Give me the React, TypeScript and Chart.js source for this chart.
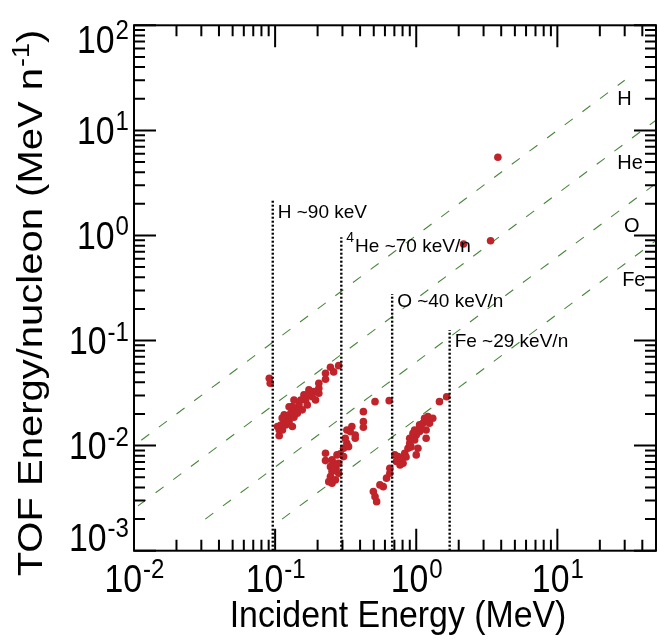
import React, { useEffect, useRef } from 'react';
import { Chart, registerables } from 'chart.js';

Chart.register(...registerables);

// ---- axes ----
const X_MIN = 0.01;
const X_MAX = 50;
const Y_MIN = 0.001;
const Y_MAX = 100;

const xMajorTicks = [0.01, 0.1, 1, 10];
const xTickExponents = ['-2', '-1', '0', '1'];
const yMajorTicks = [0.001, 0.01, 0.1, 1, 10, 100];
const yTickExponents = ['-3', '-2', '-1', '0', '1', '2'];
const minorMultipliers = [2, 3, 4, 5, 6, 7, 8, 9];

const xTitle = 'Incident Energy (MeV)';
const yTitleMain = 'TOF Energy/nucleon (MeV n';
const yTitleSup = '-1';
const yTitleEnd = ')';

// ---- measured events (MeV, MeV/nucleon) ----
const incidentEnergy = [
  // H group
  0.282, 0.2466, 0.2275, 0.2275, 0.204, 0.204, 0.188, 0.183, 0.169, 0.1645,
  0.152, 0.1476, 0.14, 0.1325, 0.129, 0.1222, 0.1159, 0.1099, 0.1069, 0.1069,
  0.1127, 0.119, 0.1256, 0.136, 0.1437, 0.1557, 0.169, 0.1934, 0.204, 0.1256,
  0.1159, 0.1325, 0.104, 0.0909, 0.0923, 0.1736, 0.26, 0.136, 0.16, 0.1122,
  // He group
  0.3224, 0.314, 0.3224, 0.3056, 0.2898, 0.2744, 0.2275, 0.2275, 0.253, 0.2466,
  0.253, 0.27, 0.282, 0.2466, 0.253, 0.2673, 0.2399, 0.282, 0.3056, 0.3314,
  0.3405, 0.3497, 0.3694, 0.3694, 0.4222, 0.4222, 0.4222, 0.5105, 0.643, 0.26,
  0.26,
  // O / Fe group
  0.4966, 0.5105, 0.524, 0.553, 0.5836, 0.6157, 0.65, 0.65, 0.705, 0.744,
  0.7237, 0.7847, 0.8065, 0.8289, 0.8743, 0.899, 0.974, 1.0, 1.056, 1.084,
  1.114, 1.146, 1.208, 1.242, 1.31, 1.175, 1.028, 1.0, 0.899, 0.948,
  0.974, 1.056, 1.175, 1.46, 1.643, 0.768, 0.847, 0.918,
  // high-energy events
  3.79, 2.163, 3.363,
];
const tofEnergy = [
  // H group
  0.0577, 0.0557, 0.0489, 0.0428, 0.0392, 0.0352, 0.0327, 0.0292, 0.0304, 0.0272,
  0.0272, 0.0244, 0.0219, 0.0235, 0.0203, 0.0182, 0.0169, 0.0157, 0.0141, 0.0124,
  0.0141, 0.0157, 0.0169, 0.0186, 0.0203, 0.0219, 0.0244, 0.0272, 0.0315, 0.0234,
  0.0196, 0.0152, 0.0152, 0.0438, 0.0392, 0.0339, 0.0503, 0.0272, 0.0304, 0.0183,
  // He group
  0.0141, 0.01176, 0.01054, 0.00945, 0.00834, 0.00816, 0.00847, 0.0072, 0.00731, 0.00631,
  0.00566, 0.0061, 0.0068, 0.00507, 0.00439, 0.00472, 0.00454, 0.00546, 0.00786, 0.00978,
  0.0136, 0.0152, 0.01264, 0.01176, 0.02106, 0.0169, 0.01496, 0.0262, 0.0268, 0.0068,
  0.00587,
  // O / Fe group
  0.00365, 0.00327, 0.00293, 0.00423, 0.00407, 0.0049, 0.00546, 0.0061, 0.00816, 0.00786,
  0.00705, 0.00759, 0.0068, 0.00847, 0.00945, 0.01054, 0.01133, 0.01264, 0.0136, 0.01465,
  0.01634, 0.01823, 0.01888, 0.01634, 0.01823, 0.0141, 0.00945, 0.00816, 0.01176, 0.01312,
  0.0141, 0.01574, 0.01176, 0.0262, 0.0292, 0.00655, 0.0078, 0.00972,
  // high-energy events
  5.55, 0.83, 0.892,
];

// ---- E/A reference lines ----
const ionNames = ['H', 'He', 'O', 'Fe'];
const ionMassNumbers = [1, 4, 16, 56];
const ionLineStartY = 0.002;
const ionLineEndY = 30;
const ionLabelX = [25.3, 25.3, 28.3, 27.4];
const ionLabelY = [17.4, 4.3, 1.08, 0.331];

// ---- thresholds ----
const thresholdEnergy = [0.0962, 0.2945, 0.675, 1.725];
const thresholdTop = [2.14, 0.961, 0.278, 0.126];
const thresholdPrefix = ['', '4', '', ''];
const thresholdText = ['H ~90 keV', 'He ~70 keV/n', 'O ~40 keV/n', 'Fe ~29 keV/n'];
const thresholdLabelY = [1.458, 0.701, 0.21, 0.0875];

const FONT = '"Liberation Sans", Arial, Helvetica, sans-serif';
const TICK_FONT = 38;
const TICK_SUP = 27;
const TICK_SX = 0.89;

function minorValues(min: number, max: number) {
  const out: number[] = [];
  for (let d = -4; d <= 3; d++) {
    for (const m of minorMultipliers) {
      const v = m * Math.pow(10, d);
      if (v > min * 1.0001 && v < max * 0.9999) out.push(v);
    }
  }
  return out;
}

function drawPow(ctx: CanvasRenderingContext2D, exp: string, anchorX: number, baseY: number, align: 'center' | 'right') {
  ctx.font = `${TICK_FONT}px ${FONT}`;
  const w1 = ctx.measureText('10').width;
  ctx.font = `${TICK_SUP}px ${FONT}`;
  const w2 = ctx.measureText(exp).width;
  const total = (w1 + w2) * TICK_SX;
  const left = align === 'center' ? anchorX - total / 2 : anchorX - total;
  const digitH = TICK_FONT * 0.716;
  ctx.save();
  ctx.translate(left, baseY);
  ctx.scale(TICK_SX, 1);
  ctx.textAlign = 'left';
  ctx.textBaseline = 'alphabetic';
  ctx.fillStyle = '#000';
  ctx.font = `${TICK_FONT}px ${FONT}`;
  ctx.fillText('10', 0, 0);
  ctx.font = `${TICK_SUP}px ${FONT}`;
  ctx.fillText(exp, w1 + 1, -digitH * 0.5);
  ctx.restore();
}

const decorPlugin = {
  id: 'decor',
  afterDatasetsDraw(chart: any) {
    const { ctx, chartArea: a } = chart;
    const xs = chart.scales.x;
    const ys = chart.scales.y;
    ctx.save();

    // ticks on all four sides, pointing inward
    ctx.strokeStyle = '#000';
    ctx.lineWidth = 2;
    const MAJ = 22;
    const MIN = 11;
    const xTick = (v: number, len: number) => {
      const px = xs.getPixelForValue(v);
      ctx.beginPath();
      ctx.moveTo(px, a.bottom);
      ctx.lineTo(px, a.bottom - len);
      ctx.moveTo(px, a.top);
      ctx.lineTo(px, a.top + len);
      ctx.stroke();
    };
    const yTick = (v: number, len: number) => {
      const py = ys.getPixelForValue(v);
      ctx.beginPath();
      ctx.moveTo(a.left, py);
      ctx.lineTo(a.left + len, py);
      ctx.moveTo(a.right, py);
      ctx.lineTo(a.right - len, py);
      ctx.stroke();
    };
    xMajorTicks.forEach((v) => xTick(v, MAJ));
    minorValues(X_MIN, X_MAX).forEach((v) => xTick(v, MIN));
    yMajorTicks.forEach((v) => yTick(v, MAJ));
    minorValues(Y_MIN, Y_MAX).forEach((v) => yTick(v, MIN));

    // frame
    ctx.strokeRect(a.left, a.top, a.right - a.left, a.bottom - a.top);

    // tick labels
    const digitH = TICK_FONT * 0.716;
    xMajorTicks.forEach((v, i) => {
      drawPow(ctx, xTickExponents[i], xs.getPixelForValue(v), a.bottom + 41, 'center');
    });
    yMajorTicks.forEach((v, i) => {
      let base = ys.getPixelForValue(v) + digitH / 2;
      base = Math.max(a.top + digitH, Math.min(a.bottom, base));
      drawPow(ctx, yTickExponents[i], a.left - 6, base, 'right');
    });

    // x title
    ctx.save();
    ctx.fillStyle = '#000';
    ctx.font = `36px ${FONT}`;
    ctx.textAlign = 'center';
    ctx.textBaseline = 'alphabetic';
    ctx.translate((a.left + a.right) / 2 + 3, 627);
    ctx.scale(0.94, 1);
    ctx.fillText(xTitle, 0, 0);
    ctx.restore();

    // y title (rotated, glyphs slightly condensed)
    ctx.save();
    ctx.fillStyle = '#000';
    ctx.font = `40px ${FONT}`;
    const wA = ctx.measureText(yTitleMain).width;
    const wC = ctx.measureText(yTitleEnd).width;
    ctx.font = `27px ${FONT}`;
    const wB = ctx.measureText(yTitleSup).width;
    const totalW = wA + wB + wC + 1;
    ctx.translate(42, 303);
    ctx.rotate(-Math.PI / 2);
    ctx.scale(1, 0.88);
    ctx.textAlign = 'left';
    ctx.textBaseline = 'alphabetic';
    const startX = -totalW / 2;
    ctx.font = `40px ${FONT}`;
    ctx.fillText(yTitleMain, startX, 0);
    ctx.font = `27px ${FONT}`;
    ctx.fillText(yTitleSup, startX + wA + 1, -15);
    ctx.font = `40px ${FONT}`;
    ctx.fillText(yTitleEnd, startX + wA + wB + 1, 0);
    ctx.restore();

    // threshold labels
    ctx.fillStyle = '#000';
    ctx.textAlign = 'left';
    ctx.textBaseline = 'alphabetic';
    thresholdText.forEach((t, i) => {
      let px = xs.getPixelForValue(thresholdEnergy[i]) + 5;
      const py = ys.getPixelForValue(thresholdLabelY[i]);
      if (thresholdPrefix[i]) {
        ctx.font = `14px ${FONT}`;
        ctx.fillText(thresholdPrefix[i], px, py - 10);
        px += ctx.measureText(thresholdPrefix[i]).width + 1;
      }
      ctx.font = `19px ${FONT}`;
      ctx.fillText(t, px, py);
    });

    // ion line labels
    ctx.font = `20px ${FONT}`;
    ionNames.forEach((n, i) => {
      ctx.fillText(n, xs.getPixelForValue(ionLabelX[i]) + 3, ys.getPixelForValue(ionLabelY[i]));
    });

    ctx.restore();
  },
};

export default function App() {
  const ref = useRef<HTMLCanvasElement | null>(null);

  useEffect(() => {
    if (!ref.current) return;
    const points = incidentEnergy.map((x, i) => ({ x, y: tofEnergy[i] }));

    const ionLines = ionNames.map((name, i) => ({
      label: name + ' E/A',
      data: [
        { x: ionLineStartY * ionMassNumbers[i], y: ionLineStartY },
        { x: ionLineEndY * ionMassNumbers[i], y: ionLineEndY },
      ],
      showLine: true,
      borderColor: 'rgb(74,135,62)',
      borderWidth: 1.1,
      borderDash: [10, 12],
      pointRadius: 0,
      order: 5,
    }));

    const thresholdLines = thresholdEnergy.map((x, i) => ({
      label: thresholdText[i],
      data: [
        { x, y: Y_MIN },
        { x, y: thresholdTop[i] },
      ],
      showLine: true,
      borderColor: '#000',
      borderWidth: 2.4,
      borderDash: [2, 2],
      pointRadius: 0,
      order: 1,
    }));

    const chart = new Chart(ref.current, {
      type: 'scatter',
      data: {
        datasets: [
          {
            label: 'events',
            data: points,
            showLine: false,
            pointRadius: 3.8,
            pointBackgroundColor: '#c1232b',
            pointBorderWidth: 0,
            borderWidth: 0,
            order: 3,
          } as any,
          ...ionLines,
          ...thresholdLines,
        ],
      },
      options: {
        responsive: false,
        animation: false,
        events: [],
        devicePixelRatio: 1,
        layout: { padding: { left: 134, right: 1.5, top: 25.3, bottom: 90.3 } },
        plugins: { legend: { display: false }, tooltip: { enabled: false } },
        scales: {
          x: { type: 'logarithmic', min: X_MIN, max: X_MAX, display: false },
          y: { type: 'logarithmic', min: Y_MIN, max: Y_MAX, display: false },
        },
      },
      plugins: [decorPlugin],
    });
    return () => chart.destroy();
  }, []);

  return (
    <div style={{ position: 'absolute', left: 0, top: 0, width: 660, height: 641, background: '#fff' }}>
      <canvas ref={ref} width={660} height={641} />
    </div>
  );
}
